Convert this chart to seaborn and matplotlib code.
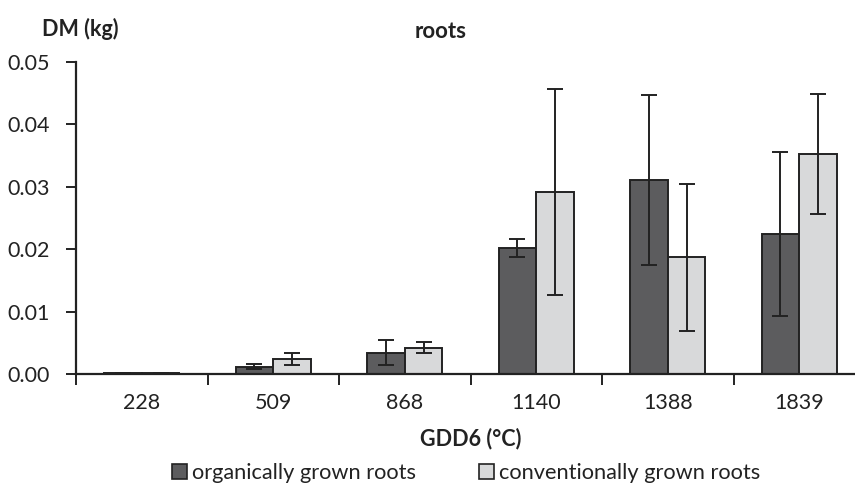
import matplotlib
matplotlib.use("Agg")
import matplotlib.pyplot as plt
from matplotlib.patches import Patch
import seaborn as sns
import pandas as pd
import numpy as np

categories = ["228", "509", "868", "1140", "1388", "1839"]
series_names = ["organically grown roots", "conventionally grown roots"]
organic = [0.0001, 0.0012, 0.0034, 0.0202, 0.0311, 0.0224]
organic_err = [0.0, 0.0004, 0.0020, 0.0015, 0.0136, 0.0131]
conventional = [0.0001, 0.0024, 0.0042, 0.0292, 0.0187, 0.0353]
conventional_err = [0.0, 0.0009, 0.0009, 0.0165, 0.0118, 0.0096]
yticks = [0.00, 0.01, 0.02, 0.03, 0.04, 0.05]

colors = ["#5c5c5e", "#d8d9da"]
edge = "#222222"

df = pd.DataFrame({
    "GDD6": categories * 2,
    "DM": organic + conventional,
    "series": [series_names[0]] * len(categories) + [series_names[1]] * len(categories),
})
errs = [organic_err, conventional_err]

sns.set_style("white")
plt.rcParams["font.family"] = ["Lato", "DejaVu Sans"]

W, H = 855, 486
fig = plt.figure(figsize=(W / 100, H / 100), dpi=100)
ax = fig.add_axes([76 / W, (H - 374) / H, (865 - 76) / W, 312 / H])

sns.barplot(data=df, x="GDD6", y="DM", hue="series", order=categories,
            hue_order=series_names, palette=colors, width=0.574, gap=0,
            edgecolor=edge, linewidth=1.4, errorbar=None, legend=False, ax=ax)

for cont, e in zip(ax.containers, errs):
    xs = [b.get_x() + b.get_width() / 2 for b in cont]
    ys = [b.get_height() for b in cont]
    ax.errorbar(xs, ys, yerr=e, fmt="none", ecolor=edge, elinewidth=1.4,
                capsize=5.5, capthick=1.4, zorder=5)

ax.set_xlim(-0.5, len(categories) - 0.5)
ax.set_ylim(0, 0.05)
ax.set_yticks(yticks)
ax.set_yticklabels([f"{v:.2f}" for v in yticks])
ax.set_xticks(range(len(categories)))
ax.set_xticklabels(categories)
ax.set_xticks(np.arange(-0.5, len(categories), 1.0), minor=True)

for s in ["top", "right"]:
    ax.spines[s].set_visible(False)
for s in ["left", "bottom"]:
    ax.spines[s].set_color(edge)
    ax.spines[s].set_linewidth(1.6)

ax.tick_params(axis="y", which="major", direction="out", length=7, width=1.4,
               color=edge, labelsize=15.5, labelcolor="#222", pad=12, left=True)
ax.tick_params(axis="x", which="major", length=0, labelsize=15.5, labelcolor="#222", pad=14)
ax.tick_params(axis="x", which="minor", direction="out", length=8, width=1.4,
               color=edge, bottom=True)

ax.set_xlabel("")
ax.set_ylabel("")
fig.text(80 / W, 1 - 29 / H, "DM (kg)", ha="center", va="center",
         fontsize=15.5, fontweight="bold", color="#222")
fig.text(441 / W, 1 - 32 / H, "roots", ha="center", va="center",
         fontsize=16, fontweight="bold", color="#222")
fig.text(471 / W, 1 - 439 / H, "GDD6 (°C)", ha="center", va="center",
         fontsize=15.5, fontweight="bold", color="#222")

handles = [Patch(facecolor=c, edgecolor=edge, linewidth=1.2) for c in colors]
fig.legend(handles, series_names, loc="center", ncol=2,
           bbox_to_anchor=(466 / W, 1 - 473 / H), frameon=False,
           fontsize=15.7, handlelength=0.7, handleheight=0.7,
           handletextpad=0.2, columnspacing=2.9, labelcolor="#222",
           borderpad=0)

fig.savefig("out.png", dpi=100)
